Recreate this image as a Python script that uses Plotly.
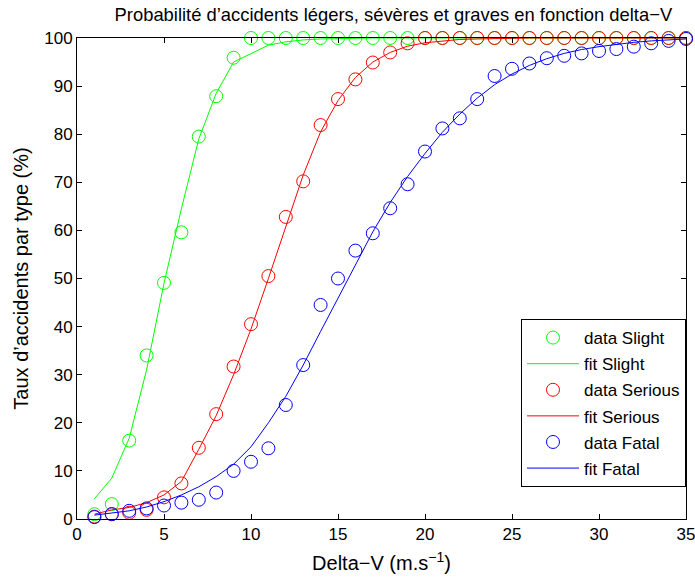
import plotly.graph_objects as go

x_vals = list(range(1, 36))

data_slight = [1.0, 3.1, 16.3, 34.0, 49.1, 59.6, 79.5, 87.9, 95.9, 100, 100, 100, 100, 100, 100, 100, 100, 100,
               100, 100, 100, 100, 100, 100, 100, 100, 100, 100, 100, 100, 100, 100, 100, 100, 100]
fit_slight = [4.2, 8.5, 16.8, 31.0, 49.0, 64.5, 79.0, 88.5, 95.0, 96.8, 98.5, 99.2, 99.6, 99.8, 99.9, 100, 100, 100,
              100, 100, 100, 100, 100, 100, 100, 100, 100, 100, 100, 100, 100, 100, 100, 100, 100]

data_serious = [0.5, 1.0, 1.3, 1.9, 4.5, 7.4, 14.8, 21.8, 31.7, 40.5, 50.5, 62.8, 70.2, 81.9, 87.3, 91.4, 94.9, 97.0,
                98.9, 100, 100, 100, 100, 100, 100, 100, 100, 100, 100, 100, 100, 100, 100, 100, 100]
fit_serious = [1.0, 1.9, 2.4, 3.4, 5.0, 7.8, 14.5, 21.5, 30.0, 39.5, 50.0, 61.0, 71.5, 80.5, 87.0, 91.8, 95.0, 97.0,
               98.3, 99.0, 99.4, 99.7, 99.8, 99.9, 100, 100, 100, 100, 100, 100, 100, 100, 100, 100, 100]

data_fatal = [0.4, 1.0, 1.7, 2.2, 2.8, 3.4, 4.0, 5.5, 10.0, 11.9, 14.7, 23.7, 32.0, 44.5, 50.0, 55.8, 59.4, 64.6,
              69.6, 76.4, 81.2, 83.3, 87.3, 92.1, 93.6, 94.7, 95.8, 96.3, 96.8, 97.3, 97.7, 98.2, 98.9, 99.4, 99.8]
fit_fatal = [0.8, 1.2, 1.7, 2.5, 3.6, 5.0, 6.7, 8.8, 11.4, 15.0, 20.0, 25.5, 32.0, 39.0, 46.0, 53.0, 59.7, 65.8,
             71.2, 76.0, 80.4, 84.2, 87.5, 90.3, 92.5, 94.3, 95.7, 96.8, 97.6, 98.2, 98.7, 99.1, 99.4, 99.6, 99.8]

x_ticks = [0, 5, 10, 15, 20, 25, 30, 35]
y_ticks = [0, 10, 20, 30, 40, 50, 60, 70, 80, 90, 100]

GREEN = "#00ff00"
RED = "#ff0000"
BLUE = "#0000ff"
FONT = "Liberation Sans, Arial, sans-serif"
FS = 17

fig = go.Figure()

series = [
    ("data Slight", data_slight, "markers", GREEN),
    ("fit Slight", fit_slight, "lines", GREEN),
    ("data Serious", data_serious, "markers", RED),
    ("fit Serious", fit_serious, "lines", RED),
    ("data Fatal", data_fatal, "markers", BLUE),
    ("fit Fatal", fit_fatal, "lines", BLUE),
]

for i, (name, vals, mode, col) in enumerate(series):
    if mode == "markers":
        fig.add_trace(go.Scatter(
            x=x_vals, y=vals, mode="markers", name=name,
            marker=dict(symbol="circle-open", size=13, color=col, line=dict(width=1, color=col)),
            cliponaxis=False, legendgroup=f"g{i}"))
    else:
        fig.add_trace(go.Scatter(
            x=x_vals, y=vals, mode="lines", name=name,
            line=dict(color=col, width=1), cliponaxis=False, legendgroup=f"g{i}"))

axis_common = dict(
    showgrid=False, zeroline=False, showline=True, linecolor="black", linewidth=1,
    mirror="ticks", ticks="inside", ticklen=5, tickcolor="black", automargin=False,
    ticklabeloverflow="allow",
    tickfont=dict(family=FONT, size=FS, color="black"),
)

fig.update_layout(
    width=695, height=577,
    paper_bgcolor="white", plot_bgcolor="white",
    margin=dict(l=77, r=9, t=38, b=58),
    font=dict(family=FONT, size=FS, color="black"),
    title=dict(text="Probabilité d’accidents légers, sévères et graves en fonction delta−V",
               x=0.566, xref="container", xanchor="center",
               y=0.975, yref="container", yanchor="middle",
               font=dict(size=18.4, color="black")),
    xaxis=dict(range=[0, 35], tickvals=x_ticks, ticktext=[str(v) for v in x_ticks],
               title=dict(text="Delta−V (m.s<sup>−1</sup>)", standoff=12), **axis_common),
    yaxis=dict(range=[0, 100], tickvals=y_ticks, ticktext=[str(v) for v in y_ticks],
               title=dict(text="Taux d’accidents par type (%)", standoff=10), **axis_common),
    legend=dict(x=1, y=0.0665, xanchor="right", yanchor="bottom",
                bgcolor="white", bordercolor="black", borderwidth=1,
                font=dict(size=FS, color="black"), tracegroupgap=1,
                itemwidth=52),
    showlegend=True,
)

fig.write_html("out.html", config={"displayModeBar": False},
               post_script="document.body.style.margin='0px';")
